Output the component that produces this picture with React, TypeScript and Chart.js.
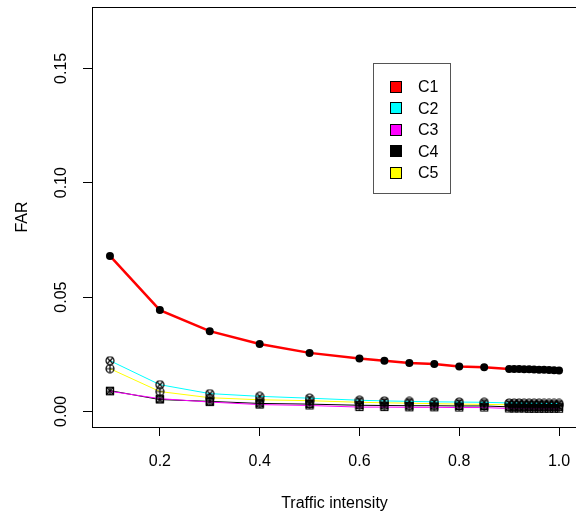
import React, { useEffect, useRef } from "react";
import { Chart, registerables } from "chart.js";
Chart.register(...registerables);

const seriesNames = ["C1", "C2", "C3", "C4", "C5"];
const seriesColors = ["#FF0000", "#00FFFF", "#FF00FF", "#000000", "#FFFF00"];
const trafficIntensity = [0.1, 0.2, 0.3, 0.4, 0.5, 0.6, 0.65, 0.7, 0.75, 0.8, 0.85, 0.9, 0.91, 0.92, 0.93, 0.94, 0.95, 0.96, 0.97, 0.98, 0.99, 1.0];
const c1 = [0.068, 0.0443, 0.0351, 0.0295, 0.0256, 0.0231, 0.0222, 0.0212, 0.0207, 0.0197, 0.0193, 0.0186, 0.0186, 0.0185, 0.0184, 0.0184, 0.0183, 0.0182, 0.0182, 0.0181, 0.018, 0.0179];
const c2 = [0.0222, 0.0117, 0.0078, 0.0066, 0.0058, 0.0049, 0.0046, 0.0044, 0.0042, 0.0041, 0.004, 0.0037, 0.0037, 0.0037, 0.0036, 0.0036, 0.0036, 0.0036, 0.0035, 0.0035, 0.0035, 0.0035];
const c3 = [0.0088, 0.0056, 0.0041, 0.003, 0.0026, 0.0019, 0.0019, 0.0018, 0.0018, 0.0017, 0.0017, 0.0013, 0.0013, 0.0013, 0.0013, 0.0012, 0.0012, 0.0012, 0.0012, 0.0012, 0.0012, 0.0012];
const c4 = [0.0091, 0.0052, 0.0044, 0.0035, 0.0032, 0.0027, 0.0026, 0.0025, 0.0025, 0.0024, 0.0024, 0.002, 0.002, 0.002, 0.002, 0.002, 0.0019, 0.0019, 0.0019, 0.0019, 0.0019, 0.0019];
const c5 = [0.0187, 0.0087, 0.006, 0.0051, 0.0047, 0.004, 0.0038, 0.0036, 0.0034, 0.0032, 0.0031, 0.0029, 0.0029, 0.0029, 0.0028, 0.0028, 0.0028, 0.0028, 0.0028, 0.0027, 0.0027, 0.0027];
const seriesValues = [c1, c2, c3, c4, c5];
const xTickValues = [0.2, 0.4, 0.6, 0.8, 1.0];
const xTickLabels = ["0.2", "0.4", "0.6", "0.8", "1.0"];
const yTickValues = [0, 0.05, 0.1, 0.15];
const yTickLabels = ["0.00", "0.05", "0.10", "0.15"];
const xTitle = "Traffic intensity";
const yTitle = "FAR";

const FONT = "'Liberation Sans', Arial, sans-serif";

function makeMarker(kind: string): HTMLCanvasElement {
  const c = document.createElement("canvas");
  c.width = 10;
  c.height = 10;
  const g = c.getContext("2d")!;
  g.strokeStyle = "#000";
  g.lineWidth = 1.2;
  const m = 5;
  const r = 4;
  g.beginPath();
  if (kind === "circleX" || kind === "circlePlus") {
    g.arc(m, m, r, 0, Math.PI * 2);
  } else {
    g.rect(m - r + 0.5, m - r + 0.5, 2 * r - 1, 2 * r - 1);
  }
  g.stroke();
  g.beginPath();
  if (kind === "circleX" || kind === "squareX") {
    g.moveTo(m - r + 1, m - r + 1);
    g.lineTo(m + r - 1, m + r - 1);
    g.moveTo(m + r - 1, m - r + 1);
    g.lineTo(m - r + 1, m + r - 1);
  } else {
    g.moveTo(m, m - r);
    g.lineTo(m, m + r);
    g.moveTo(m - r, m);
    g.lineTo(m + r, m);
  }
  g.stroke();
  return c;
}

const boxPlugin = {
  id: "rbox",
  afterDraw(chart: any) {
    const { ctx, chartArea } = chart;
    ctx.save();
    ctx.strokeStyle = "#000";
    ctx.lineWidth = 1;
    ctx.strokeRect(
      Math.round(chartArea.left) + 0.5,
      Math.round(chartArea.top) + 0.5,
      Math.round(chartArea.right - chartArea.left),
      Math.round(chartArea.bottom - chartArea.top)
    );
    // legend
    const lx = 373.5, ly = 63.5, lw = 77, lh = 130;
    ctx.fillStyle = "#fff";
    ctx.fillRect(lx, ly, lw, lh);
    ctx.strokeStyle = "#555";
    ctx.strokeRect(lx, ly, lw, lh);
    ctx.font = "16px " + FONT;
    ctx.textBaseline = "middle";
    ctx.textAlign = "left";
    seriesNames.forEach((name, i) => {
      const cy = 86.5 + i * 21.6;
      ctx.fillStyle = seriesColors[i];
      ctx.fillRect(390, Math.round(cy - 6), 12, 12);
      ctx.strokeStyle = "#000";
      ctx.strokeRect(390.5, Math.round(cy - 6) + 0.5, 11, 11);
      ctx.fillStyle = "#000";
      ctx.fillText(name, 418, cy + 1);
    });
    ctx.restore();
  },
};

export default function App() {
  const ref = useRef<HTMLCanvasElement | null>(null);
  useEffect(() => {
    if (!ref.current) return;
    const markers = [null, makeMarker("circleX"), makeMarker("squarePlus"), makeMarker("squareX"), makeMarker("circlePlus")];
    const datasets = seriesValues.map((vals, i) => ({
      label: seriesNames[i],
      data: trafficIntensity.map((x, j) => ({ x, y: vals[j] })),
      showLine: true,
      borderColor: seriesColors[i],
      borderWidth: i === 0 ? 2.5 : 1,
      pointStyle: i === 0 ? "circle" : (markers[i] as any),
      pointRadius: i === 0 ? 4 : 5,
      pointBackgroundColor: "#000",
      pointBorderColor: "#000",
      pointBorderWidth: 0,
      tension: 0,
      order: i === 0 ? 0 : i,
    }));
    const chart = new Chart(ref.current, {
      type: "scatter",
      data: { datasets: datasets as any },
      plugins: [boxPlugin],
      options: {
        animation: false,
        responsive: false,
        devicePixelRatio: 1,
        layout: { padding: { top: 7, right: 4, left: 0, bottom: 0 } },
        plugins: { legend: { display: false }, tooltip: { enabled: false } },
        scales: {
          x: {
            type: "linear",
            min: 0.064,
            max: 1.036,
            afterBuildTicks: (s: any) => {
              s.ticks = xTickValues.map((v) => ({ value: v }));
            },
            afterFit: (s: any) => {
              s.height = 91;
              s.paddingLeft = 0;
              s.paddingRight = 0;
            },
            ticks: {
              callback: (_v: any, i: number) => xTickLabels[i],
              color: "#000",
              font: { family: FONT, size: 16 },
              padding: 16,
              maxRotation: 0,
              autoSkip: false,
            },
            grid: { drawOnChartArea: false, drawTicks: true, tickLength: 9, color: "#000" },
            border: { display: false },
            title: { display: true, text: xTitle, color: "#000", font: { family: FONT, size: 16 }, padding: { top: 0, bottom: 5 } },
          },
          y: {
            type: "linear",
            min: -0.0068,
            max: 0.1768,
            afterBuildTicks: (s: any) => {
              s.ticks = yTickValues.map((v) => ({ value: v }));
            },
            afterFit: (s: any) => {
              s.width = 92;
              s.paddingTop = 0;
              s.paddingBottom = 0;
            },
            ticks: {
              callback: (_v: any, i: number) => yTickLabels[i],
              color: "#000",
              font: { family: FONT, size: 16 },
              padding: 6,
              minRotation: 90,
              maxRotation: 90,
              crossAlign: "center",
              autoSkip: false,
            },
            grid: { drawOnChartArea: false, drawTicks: true, tickLength: 9, color: "#000" },
            border: { display: false },
            title: { display: true, text: yTitle, color: "#000", font: { family: FONT, size: 16 }, padding: { top: 13, bottom: 0 } },
          },
        },
      } as any,
    });
    return () => chart.destroy();
  }, []);
  return (
    <div style={{ position: "fixed", left: 0, top: 0, width: 576, height: 518, overflow: "hidden", background: "#fff" }}>
      <canvas ref={ref} width={582} height={518} style={{ display: "block", width: 582, height: 518 }} />
    </div>
  );
}
